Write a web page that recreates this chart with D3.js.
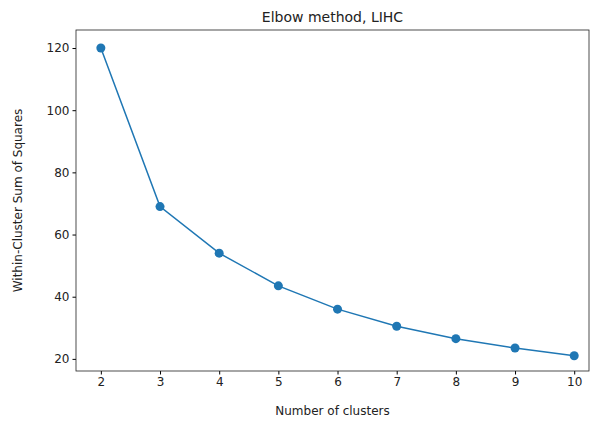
<html>
<head>
<meta charset="UTF-8" />
<script src="https://d3js.org/d3.v7.min.js"></script>
<style>
  body { margin: 0; background: white; }
  text { font-family: "DejaVu Sans", sans-serif; }
</style>
</head>
<body>
<svg id="chart" width="590" height="421"></svg>
<script>
  const clusters = [2, 3, 4, 5, 6, 7, 8, 9, 10];
  const wcss = [120, 69, 54, 43.5, 36, 30.5, 26.5, 23.5, 21];
  const yTicks = [20, 40, 60, 80, 100, 120];

  const svg = d3.select("svg#chart");
  const margin = { top: 30, right: 1, bottom: 50, left: 76 };
  const width = +svg.attr("width");
  const height = +svg.attr("height");
  const chartWidth = width - margin.left - margin.right;
  const chartHeight = height - margin.top - margin.bottom;

  const x = d3.scaleLinear().domain([1.58, 10.25]).range([0, chartWidth]);
  const y = d3.scaleLinear().domain([16.1, 125.8]).range([chartHeight, 0]);

  const g = svg.append("g").attr("transform", `translate(${margin.left},${margin.top})`);

  g.append("g")
    .attr("transform", `translate(0,${chartHeight})`)
    .call(d3.axisBottom(x).tickValues(clusters).tickFormat(d3.format("d")).tickSize(3.5).tickPadding(3))
    .call(a => a.select(".domain").remove())
    .selectAll("text").attr("font-size", 12).attr("fill", "#222");

  g.append("g")
    .call(d3.axisLeft(y).tickValues(yTicks).tickSize(3.5).tickPadding(3))
    .call(a => a.select(".domain").remove())
    .selectAll("text").attr("font-size", 12).attr("fill", "#222");

  g.append("rect")
    .attr("width", chartWidth).attr("height", chartHeight)
    .attr("fill", "none").attr("stroke", "#222").attr("stroke-width", 0.8);

  const line = d3.line().x((d, i) => x(clusters[i])).y(d => y(d));
  g.append("path").datum(wcss)
    .attr("d", line).attr("fill", "none")
    .attr("stroke", "#1f77b4").attr("stroke-width", 1.5);

  g.selectAll("circle").data(wcss).join("circle")
    .attr("cx", (d, i) => x(clusters[i])).attr("cy", d => y(d))
    .attr("r", 4.5).attr("fill", "#1f77b4");

  svg.append("text")
    .attr("x", margin.left + chartWidth / 2).attr("y", 22)
    .attr("text-anchor", "middle").attr("font-size", 14).attr("fill", "#222")
    .text("Elbow method, LIHC");

  svg.append("text")
    .attr("x", margin.left + chartWidth / 2).attr("y", 415)
    .attr("text-anchor", "middle").attr("font-size", 12).attr("fill", "#222")
    .text("Number of clusters");

  svg.append("text")
    .attr("transform", `translate(22,${margin.top + chartHeight / 2}) rotate(-90)`)
    .attr("text-anchor", "middle").attr("font-size", 12).attr("fill", "#222")
    .text("Within-Cluster Sum of Squares");
</script>
</body>
</html>
